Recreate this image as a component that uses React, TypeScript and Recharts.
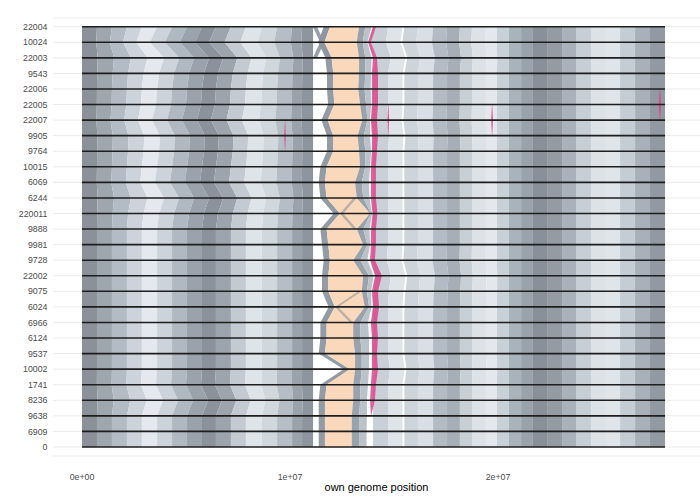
import { ComposedChart, Area, XAxis, YAxis, CartesianGrid, ReferenceLine } from 'recharts';

// genomes, top to bottom
const genomes = ['22004', '10024', '22003', '9543', '22006', '22005', '22007', '9905', '9764', '10015', '6069', '6244', '220011', '9888', '9981', '9728', '22002', '9075', '6024', '6966', '6124', '9537', '10002', '1741', '8236', '9638', '6909', '0'];
const genomeLength = [28.03, 28.03, 28.03, 28.03, 28.03, 28.03, 28.03, 28.03, 28.03, 28.03, 28.03, 28.03, 28.03, 28.03, 28.03, 28.03, 28.03, 28.03, 28.03, 28.03, 28.03, 28.03, 28.03, 28.03, 28.03, 28.03, 28.03, 28.03];
const xTicks = [0, 1e7, 2e7];

// left syntenic blocks (Mb) and how much each edge follows the row shift
const leftEdges = [0, 0.72, 1.44, 2.16, 2.88, 3.61, 4.33, 5.05, 5.77, 6.44, 7.16, 7.88, 8.65, 9.38, 10.1, 10.58, 11.11];
const leftWeights = [0, 0.1, 0.3, 0.55, 0.8, 1, 1, 1, 1, 1, 0.9, 0.8, 0.6, 0.4, 0.2, 0.1, 0];
const leftShift = [0, -0.34, 0.34, 0.1, 0, -0.05, -0.24, 0.14, 0.1, 0, -0.1, 0.34, 0.1, 0, 0, 0, 0, 0, 0, 0, 0, 0, 0, -0.05, 0.29, 0, 0, 0];

// right syntenic blocks (Mb)
const rightEdges = [13.99, 14.71, 15.41, 15.5, 16.15, 16.88, 17.55, 18.17, 18.75, 19.42, 19.95, 20.53, 21.11, 21.68, 22.36, 23.08, 23.75, 24.47, 25.19, 25.87, 26.59, 27.31, 28.03];
const rightWeights = [1, 1, 1, 1, 0.8, 0.6, 0.5, 0.4, 0.3, 0.2, 0.1, 0, 0, 0, 0, 0, 0, 0, 0, 0, 0, 0, 0];
const rightShift = [0, -0.1, 0.14, 0, 0, 0, -0.05, 0.05, 0, 0, 0, 0, 0, 0, 0, -0.05, 0.14, 0.05, 0, 0, 0, 0, 0.1, 0, 0, 0, 0, 0];

// middle blocks, one value per genome (Mb)
const leftGrayStart = [11.62, 11.35, 11.7, 11.78, 11.78, 11.83, 11.51, 11.78, 11.78, 11.46, 11.38, 11.46, 12.1, 11.46, 11.54, 11.62, 11.54, 11.54, 11.86, 11.46, 11.46, 11.38, 12.58, 11.46, 11.38, 11.38, 11.38, 11.38];
const orangeStart = [11.92, 11.65, 12.0, 12.08, 12.08, 12.13, 11.81, 12.08, 12.08, 11.76, 11.68, 11.76, 12.4, 11.76, 11.84, 11.92, 11.84, 11.84, 12.16, 11.76, 11.76, 11.68, 12.88, 11.76, 11.68, 11.68, 11.68, 11.68];
const orangeEnd = [13.32, 13.21, 13.32, 13.32, 13.28, 13.37, 13.48, 13.25, 13.32, 13.37, 13.13, 13.21, 13.85, 13.21, 13.52, 13.04, 13.52, 13.45, 13.6, 13.04, 13.04, 13.13, 13.13, 13.04, 13.04, 12.97, 12.97, 12.97];
const rightGrayMid = [13.62, 13.5, 13.62, 13.62, 13.58, 13.66, 13.72, 13.55, 13.62, 13.62, 13.45, 13.52, 13.9, 13.52, 13.72, 13.38, 13.8, 13.7, 13.8, 13.38, 13.38, 13.45, 13.45, 13.38, 13.38, 13.32, 13.32, 13.32];
const rightGrayEnd = [13.92, 13.72, 13.92, 13.9, 13.88, 13.9, 13.85, 13.85, 13.9, 13.85, 13.8, 13.82, 13.95, 13.82, 13.85, 13.72, 14.02, 13.9, 13.92, 13.75, 13.8, 13.8, 13.8, 13.75, 13.7, 13.7, 13.68, 13.68];
const innerStart = [null, null, null, null, null, null, null, null, null, null, null, 13.05, 12.4, 13.05, null, null, null, 13.29, 12.16, 12.88, null, null, null, null, null, null, null, null];
const innerEnd = [null, null, null, null, null, null, null, null, null, null, null, 13.21, 12.56, 13.21, null, null, null, 13.45, 12.32, 13.04, null, null, null, null, null, null, null, null];
const crossAStart = [11.1, 11.45, 11.8, null, null, null, null, null, null, null, null, null, null, null, null, null, null, null, null, null, null, null, null, null, null, null, null, null];
const crossAEnd = [11.3, 11.65, 12.0, null, null, null, null, null, null, null, null, null, null, null, null, null, null, null, null, null, null, null, null, null, null, null, null, null];
const crossBStart = [11.7, 11.45, 11.1, null, null, null, null, null, null, null, null, null, null, null, null, null, null, null, null, null, null, null, null, null, null, null, null, null];
const crossBEnd = [11.92, 11.65, 11.3, null, null, null, null, null, null, null, null, null, null, null, null, null, null, null, null, null, null, null, null, null, null, null, null, null];
const pinkStart = [13.99, 13.75, 13.99, 13.94, 13.94, 13.94, 13.89, 13.94, 13.94, 13.89, 13.89, 13.89, 13.97, 13.89, 13.89, 13.85, 14.09, 13.94, 13.99, 13.89, 13.94, 13.94, 13.94, 13.89, 13.85, 13.89, null, null];
const pinkEnd = [14.13, 13.89, 14.18, 14.23, 14.23, 14.23, 14.18, 14.23, 14.18, 14.13, 14.13, 14.13, 14.2, 14.13, 14.13, 14.08, 14.42, 14.23, 14.28, 14.18, 14.23, 14.18, 14.23, 14.13, 14.08, 13.9, null, null];

// small pink blocks: [row, start, end]
const smallPink = [
  [[6, 9.76, 9.77], [7, 9.72, 9.8], [8, 9.76, 9.77]],
  [[5, 14.72, 14.73], [6, 14.68, 14.77], [7, 14.72, 14.73]],
  [[5, 19.71, 19.72], [6, 19.67, 19.76], [7, 19.71, 19.72]],
  [[4, 27.78, 27.79], [5, 27.72, 27.85], [6, 27.78, 27.79]],
];

const leftFills = ['#8b9099', '#9ea6ae', '#b3bcc4', '#ccd3da', '#e5e9ee', '#ccd3da', '#b0b9c1', '#9aa2ab', '#8c929b', '#9ca4ad', '#c3cad1', '#dfe4e9', '#d0d7dd', '#b5bec6', '#9aa2ab', '#8f959e'];
const rightFills = ['#c9d0d7', '#dfe4e9', null, '#cdd4da', '#d9dfe4', '#b3bcc4', '#a6afb8', '#c8d0d6', '#dde2e7', '#e4e8ec', '#c9d1d8', '#a9b3bb', '#9aa3ab', '#8a9099', '#959ba3', '#a9b1ba', '#c7cfd6', '#dde2e7', '#e0e5e9', '#c4cdd4', '#a8b1ba', '#9299a2'];

const MB = 1e6;
const FONT = "'Liberation Sans', Arial, Helvetica, sans-serif";

const pair = (s: number | null, e: number | null) => (s == null || e == null ? null : [s * MB, e * MB]);

const rows = genomes.map((g, t) => {
  const row: Record<string, any> = { idx: t, genome: g };
  leftFills.forEach((_, k) => {
    row[`l${k}`] = pair(
      leftEdges[k] + leftWeights[k] * leftShift[t],
      leftEdges[k + 1] + leftWeights[k + 1] * leftShift[t],
    );
  });
  rightFills.forEach((_, k) => {
    row[`r${k}`] = pair(
      rightEdges[k] + rightWeights[k] * rightShift[t],
      rightEdges[k + 1] + rightWeights[k + 1] * rightShift[t],
    );
  });
  row.leftGray = pair(leftGrayStart[t], orangeStart[t]);
  row.orange = pair(orangeStart[t], orangeEnd[t]);
  row.rightGray1 = pair(orangeEnd[t], rightGrayMid[t]);
  row.rightGray2 = pair(rightGrayMid[t], rightGrayEnd[t]);
  row.inner = pair(innerStart[t], innerEnd[t]);
  row.crossA = pair(crossAStart[t], crossAEnd[t]);
  row.crossB = pair(crossBStart[t], crossBEnd[t]);
  row.pink = pair(pinkStart[t], pinkEnd[t]);
  smallPink.forEach((blk, k) => {
    const hit = blk.find((b) => b[0] === t);
    row[`sp${k}`] = hit ? pair(hit[1], hit[2]) : null;
  });
  return row;
});

const sci = (v: number) => {
  const [m, e] = v.toExponential(0).split('e');
  return `${m}e${e[0]}${e.slice(1).padStart(2, '0')}`;
};

const band = (key: string, fill: string, opacity = 1) => (
  <Area
    key={key}
    dataKey={key}
    type="linear"
    fill={fill}
    fillOpacity={opacity}
    stroke="none"
    dot={false}
    activeDot={false}
    isAnimationActive={false}
  />
);

export default function App() {
  return (
    <div style={{ position: 'absolute', left: 0, top: 0, width: 700, height: 500, background: '#fff' }}>
      <ComposedChart
        width={700}
        height={500}
        data={rows}
        layout="vertical"
        margin={{ top: 18, right: 0, bottom: 0, left: 0 }}
      >
        <CartesianGrid horizontal vertical={false} stroke="#ebebeb" strokeWidth={1} />
        <XAxis
          type="number"
          domain={[-1.394e6, 29.712e6]}
          allowDataOverflow
          ticks={xTicks}
          tickFormatter={sci}
          axisLine={false}
          tickLine={false}
          tickSize={0}
          tickMargin={18}
          height={44}
          tick={{ fontSize: 8.8, fill: '#4d4d4d', fontFamily: FONT }}
          label={{ value: 'own genome position', position: 'insideBottom', offset: 9, fill: '#000', fontSize: 11, fontFamily: FONT }}
        />
        <YAxis
          type="number"
          dataKey="idx"
          domain={[-0.56, 27.58]}
          allowDataOverflow
          ticks={rows.map((r) => r.idx)}
          interval={0}
          tickFormatter={(v: number) => genomes[v]}
          axisLine={false}
          tickLine={false}
          tickSize={0}
          tickMargin={5.5}
          width={53}
          tick={{ fontSize: 8.8, fill: '#4d4d4d', fontFamily: FONT }}
        />
        {leftFills.map((c, k) => band(`l${k}`, c))}
        {rightFills.map((c, k) => (c ? band(`r${k}`, c) : null))}
        {band('leftGray', '#939ba4')}
        {band('crossA', '#8d96a0', 0.9)}
        {band('crossB', '#8d96a0', 0.9)}
        {band('orange', '#f9d8bb')}
        {band('rightGray1', '#9aa2ab')}
        {band('rightGray2', '#bac2ca')}
        {band('inner', '#7f8790', 0.5)}
        {band('pink', '#d9468c', 0.85)}
        {smallPink.map((_, k) => band(`sp${k}`, '#d9468c', 0.85))}
        {rows.map((r, t) => (
          <ReferenceLine
            key={r.genome}
            segment={[{ x: 0, y: r.idx }, { x: genomeLength[t] * MB, y: r.idx }]}
            stroke="#1e1e1e"
            strokeWidth={1.6}
            ifOverflow="visible"
          />
        ))}
      </ComposedChart>
    </div>
  );
}
